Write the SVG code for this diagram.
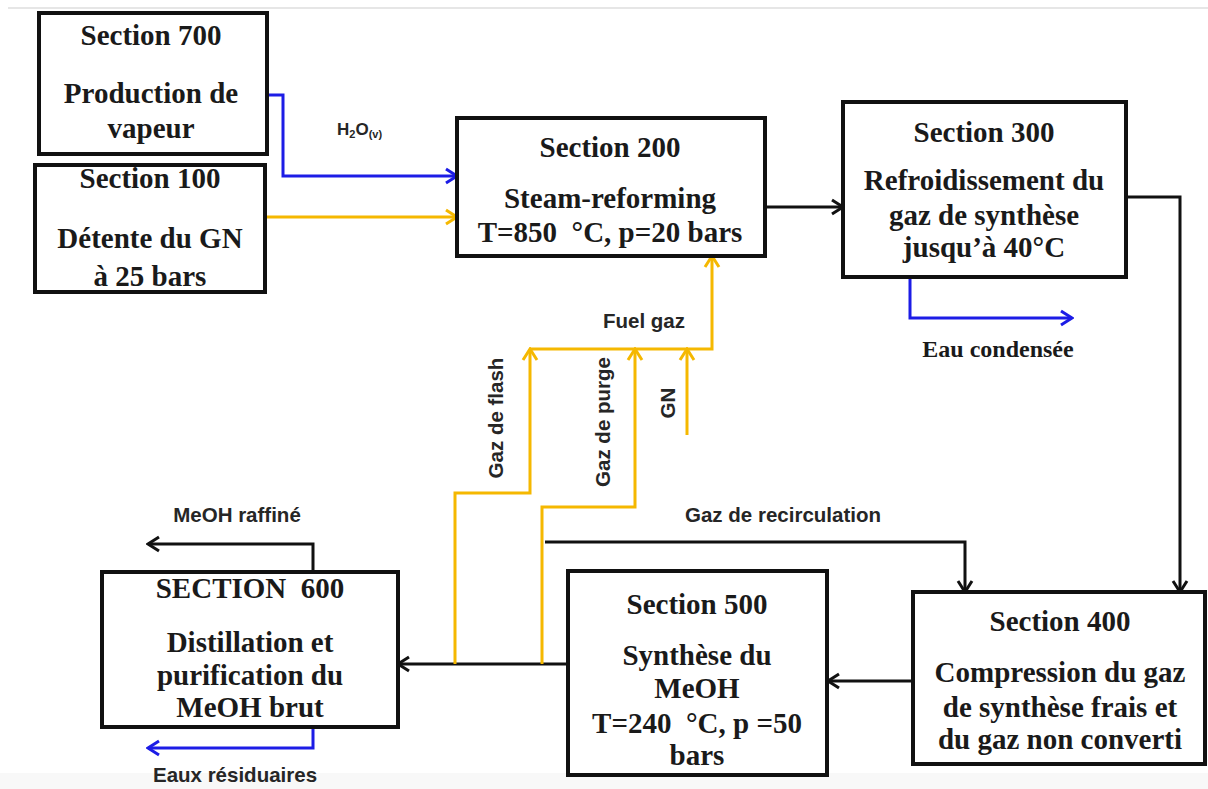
<svg xmlns="http://www.w3.org/2000/svg" width="1208" height="789" viewBox="0 0 1208 789">
  <style>
    .box { fill: #ffffff; stroke: #111111; stroke-width: 4; }
    .t { font-family: "Liberation Serif", "Times New Roman", serif; font-weight: bold; font-size: 29px; fill: #1a1a1a; text-anchor: middle; white-space: pre; }
    .lbl { font-family: "Liberation Sans", Arial, sans-serif; font-weight: bold; font-size: 20.5px; fill: #262626; text-anchor: middle; }
    .k { fill: none; stroke: #111111; stroke-width: 3; }
    .b { fill: none; stroke: #1c1ce6; stroke-width: 3; }
    .y { fill: none; stroke: #f5b800; stroke-width: 3; }
  </style>
  <defs>
    <marker id="ak" markerUnits="userSpaceOnUse" markerWidth="16" markerHeight="18" viewBox="0 0 16 18" refX="14" refY="9" orient="auto">
      <path d="M3,2 L14,9 L3,16" fill="none" stroke="#111111" stroke-width="3"/>
    </marker>
    <marker id="ab" markerUnits="userSpaceOnUse" markerWidth="16" markerHeight="18" viewBox="0 0 16 18" refX="14" refY="9" orient="auto">
      <path d="M3,2 L14,9 L3,16" fill="none" stroke="#1c1ce6" stroke-width="3"/>
    </marker>
    <marker id="ay" markerUnits="userSpaceOnUse" markerWidth="16" markerHeight="18" viewBox="0 0 16 18" refX="14" refY="9" orient="auto">
      <path d="M3,2 L14,9 L3,16" fill="none" stroke="#f5b800" stroke-width="3"/>
    </marker>
  </defs>
  <rect x="0" y="0" width="1208" height="789" fill="#ffffff"/>
  <line x1="8" y1="8" x2="1208" y2="8" stroke="#e6e6e6" stroke-width="2"/>
  <rect x="0" y="773" width="1208" height="16" fill="#f8f8f8"/>

  <g id="connectors">
    <path class="b" d="M267,95 H283 V176 H457" marker-end="url(#ab)"/>
    <path class="y" d="M265,217 H457" marker-end="url(#ay)"/>
    <path class="k" d="M765,207 H843" marker-end="url(#ak)"/>
    <path class="b" d="M910,277 V318 H1072" marker-end="url(#ab)"/>
    <path class="k" d="M1126,197 H1180 V592" marker-end="url(#ak)"/>
    <path class="k" d="M913,681 H828" marker-end="url(#ak)"/>
    <path class="k" d="M568,664 H398" marker-end="url(#ak)"/>
    <path class="k" d="M545,542 H965 V592" marker-end="url(#ak)"/>
    <path class="k" d="M313,572 V544 H148" marker-end="url(#ak)"/>
    <path class="b" d="M313,727 V748 H148" marker-end="url(#ab)"/>
    <path class="y" d="M455,664 V493 H530 V349" marker-end="url(#ay)"/>
    <path class="y" d="M542,664 V507 H635 V349" marker-end="url(#ay)"/>
    <path class="y" d="M687,435 V349" marker-end="url(#ay)"/>
    <path class="y" d="M530,349 H712 V256" marker-end="url(#ay)"/>
    <text class="lbl" x="337" y="135" style="text-anchor:start;font-size:17px">H<tspan style="font-size:11px" dy="3">2</tspan><tspan dy="-3">O</tspan><tspan style="font-size:11px" dy="3">(v)</tspan></text>
    <text class="lbl" x="644" y="328">Fuel gaz</text>
    <text class="lbl" x="783" y="522">Gaz de recirculation</text>
    <text class="lbl" x="237" y="522">MeOH raffiné</text>
    <text class="lbl" x="235" y="782">Eaux résiduaires</text>
    <text class="lbl" transform="translate(503,418) rotate(-90)">Gaz de flash</text>
    <text class="lbl" transform="translate(610,422) rotate(-90)">Gaz de purge</text>
    <text class="lbl" transform="translate(675,403) rotate(-90)">GN</text>
    <text x="998" y="357" style="font-family:'Liberation Serif','Times New Roman',serif;font-weight:bold;font-size:24px;fill:#1a1a1a;text-anchor:middle">Eau condensée</text>
  </g>

  <g id="section700">
    <rect class="box" x="39" y="13" width="228" height="141"/>
    <text class="t" x="151" y="45">Section 700</text>
    <text class="t" x="151" y="103">Production de</text>
    <text class="t" x="151" y="138">vapeur</text>
  </g>

  <g id="section100">
    <rect class="box" x="35" y="165" width="230" height="127"/>
    <text class="t" x="150" y="188">Section 100</text>
    <text class="t" x="150" y="248">Détente du GN</text>
    <text class="t" x="150" y="286">à 25 bars</text>
  </g>

  <g id="section200">
    <rect class="box" x="457" y="118" width="308" height="138"/>
    <text class="t" x="610" y="157">Section 200</text>
    <text class="t" x="610" y="208">Steam-reforming</text>
    <text class="t" x="610" y="242">T=850  °C, p=20 bars</text>
  </g>

  <g id="section300">
    <rect class="box" x="843" y="102" width="283" height="175"/>
    <text class="t" x="984" y="142">Section 300</text>
    <text class="t" x="984" y="190">Refroidissement du</text>
    <text class="t" x="984" y="225">gaz de synthèse</text>
    <text class="t" x="984" y="257">jusqu’à 40°C</text>
  </g>

  <g id="section400">
    <rect class="box" x="913" y="592" width="292" height="172"/>
    <text class="t" x="1060" y="631">Section 400</text>
    <text class="t" x="1060" y="682">Compression du gaz</text>
    <text class="t" x="1060" y="717">de synthèse frais et</text>
    <text class="t" x="1060" y="749">du gaz non converti</text>
  </g>

  <g id="section500">
    <rect class="box" x="568" y="571" width="259" height="204"/>
    <text class="t" x="697" y="614">Section 500</text>
    <text class="t" x="697" y="665">Synthèse du</text>
    <text class="t" x="697" y="698">MeOH</text>
    <text class="t" x="697" y="733">T=240  °C, p =50</text>
    <text class="t" x="697" y="765">bars</text>
  </g>

  <g id="section600">
    <rect class="box" x="102" y="572" width="296" height="155"/>
    <text class="t" x="250" y="598">SECTION  600</text>
    <text class="t" x="250" y="652">Distillation et</text>
    <text class="t" x="250" y="685">purification du</text>
    <text class="t" x="250" y="717">MeOH brut</text>
  </g>
</svg>
